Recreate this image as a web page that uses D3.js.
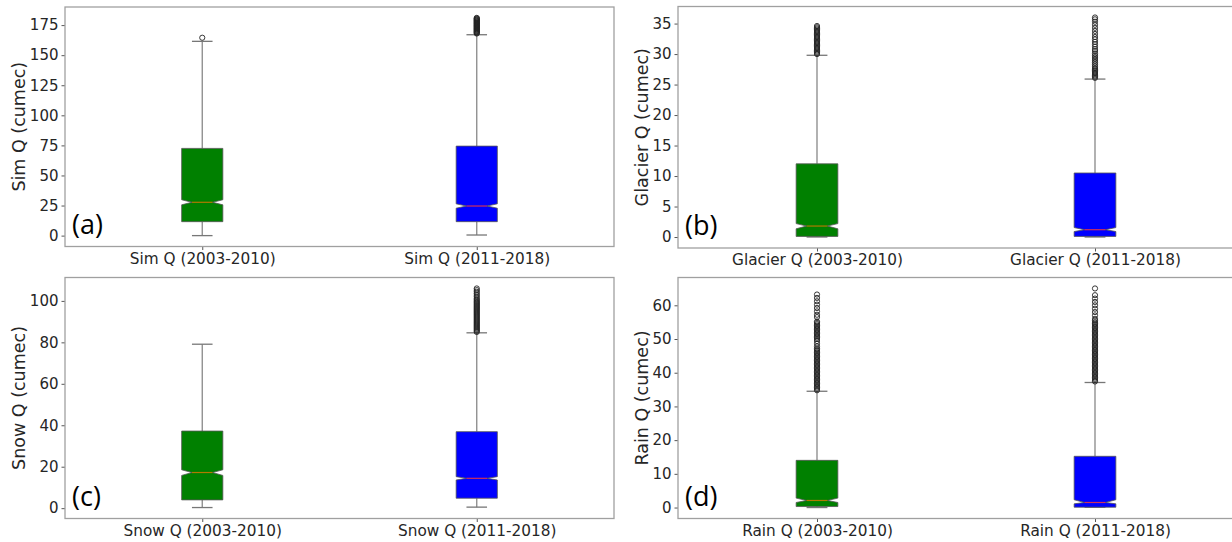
<!DOCTYPE html>
<html><head><meta charset="utf-8">
<script src="https://cdn.jsdelivr.net/npm/d3@7"></script>
<style>body{margin:0;background:#fff}svg{display:block}</style>
</head><body>
<svg id="c" width="1232" height="542"></svg>
<script>
// ---- data ----
const panelTags = ["(a)", "(b)", "(c)", "(d)"];
const varNames = ["Sim Q", "Glacier Q", "Snow Q", "Rain Q"];
const periods = ["2003-2010", "2011-2018"];
const yTicks = [
  [0, 25, 50, 75, 100, 125, 150, 175],
  [0, 5, 10, 15, 20, 25, 30, 35],
  [0, 20, 40, 60, 80, 100],
  [0, 10, 20, 30, 40, 50, 60]
];
// per panel: [2003-2010, 2011-2018]
const whisLo = [[0, 0.5], [0, 0], [0.3, 0.5], [0, 0.1]];
const q1     = [[11.6, 11.6], [0.1, 0.1], [4.0, 4.8], [0.3, 0.1]];
const ciLo   = [[25.6, 22.8], [1.35, 0.9], [15.8, 13.6], [1.5, 1.1]];
const med    = [[27.7, 24.6], [1.8, 1.2], [17.2, 14.4], [2.1, 1.5]];
const ciHi   = [[29.8, 26.4], [2.2, 1.55], [18.5, 15.2], [2.8, 2.3]];
const q3     = [[72.5, 74.4], [12.0, 10.5], [37.2, 36.9], [14.0, 15.2]];
const whisHi = [[161.5, 167], [29.8, 25.9], [79.1, 84.6], [34.5, 37.1]];
const outA1 = [164.5];
const outA2 = [168, 168.5, 169, 169.5, 170, 170.5, 171, 171.5, 172, 172.5, 173, 173.5, 174, 174.5, 175, 175.5, 176, 176.5, 177, 177.5, 178, 178.5, 179, 179.5, 180, 180.5, 181];
const outB1 = [30.0, 30.2, 30.4, 30.6, 30.8, 31.0, 31.2, 31.4, 31.6, 31.8, 32.0, 32.2, 32.4, 32.6, 32.8, 33.0, 33.2, 33.4, 33.6, 33.8, 34.0, 34.2, 34.4, 34.6];
const outB2 = [26.1, 26.3, 26.5, 26.7, 26.9, 27.1, 27.3, 27.5, 27.7, 28.0, 28.3, 28.6, 28.9, 29.2, 29.5, 29.8, 30.1, 30.5, 30.8, 31.2, 31.6, 32.0, 32.4, 32.8, 33.3, 33.8, 34.3, 34.8, 35.3, 35.7, 36.0];
const outC1 = [];
const outC2 = [85, 85.5, 86, 86.5, 87, 87.5, 88, 88.5, 89, 89.5, 90, 90.5, 91, 91.5, 92, 92.5, 93, 93.5, 94, 94.5, 95, 95.5, 96, 96.5, 97, 97.5, 98, 98.5, 99, 99.5, 100, 100.6, 101.2, 102, 102.8, 103.6, 104.4, 105.2, 106];
const outD1 = [34.8, 35.2, 35.6, 36.0, 36.4, 36.8, 37.2, 37.6, 38.0, 38.4, 38.8, 39.2, 39.6, 40.0, 40.4, 40.8, 41.2, 41.6, 42.0, 42.4, 42.8, 43.2, 43.6, 44.0, 44.4, 44.8, 45.2, 45.6, 46.0, 46.4, 46.8, 47.2, 47.8, 48.6, 49.4, 50.0, 50.4, 50.8, 51.2, 51.6, 52.0, 52.4, 52.8, 53.2, 53.6, 54.0, 54.4, 54.8, 55.2, 56.5, 57.2, 58.2, 59.2, 60.2, 61.2, 62.2, 63.2];
const outD2 = [37.4, 37.8, 38.2, 38.6, 39.0, 39.4, 39.8, 40.2, 40.6, 41.0, 41.4, 41.8, 42.2, 42.6, 43.0, 43.4, 43.8, 44.2, 44.6, 45.0, 45.4, 45.8, 46.2, 46.6, 47.0, 47.4, 47.8, 48.2, 48.6, 49.0, 49.4, 49.8, 50.2, 50.6, 51.0, 51.4, 51.8, 52.2, 52.6, 53.0, 53.4, 53.8, 54.2, 54.6, 55.0, 55.5, 56.0, 57.0, 58.0, 59.0, 60.0, 61.0, 62.0, 63.0, 65.0];
const outliers = [[outA1, outA2], [outB1, outB2], [outC1, outC2], [outD1, outD2]];
const boxColors = ["#008000", "#0000ff"];

// ---- layout ----
const frames = [
  {l: 65, r: 614, t: 7, b: 246.5},
  {l: 678, r: 1234, t: 6.5, b: 248},
  {l: 65, r: 614, t: 277.5, b: 518.5},
  {l: 678, r: 1234, t: 277.5, b: 518.5}
];
const svg = d3.select("#c");
const tickFont = "'DejaVu Sans', sans-serif";
const txtCol = "#262626";

panelTags.forEach((tag, p) => {
  const f = frames[p];
  const allVals = [].concat(whisLo[p], whisHi[p], outliers[p][0], outliers[p][1]);
  const mn = d3.min(allVals), mx = d3.max(allVals), pad = (mx - mn) * 0.05;
  const y = d3.scaleLinear().domain([mn - pad, mx + pad]).range([f.b, f.t]);
  const x = d3.scaleLinear().domain([0.5, 2.5]).range([f.l, f.r]);
  const g = svg.append("g");

  // axes
  const ya = d3.axisLeft(y).tickValues(yTicks[p]).tickSize(3.5).tickPadding(3).tickFormat(d3.format("d"));
  const yg = g.append("g").attr("transform", `translate(${f.l},0)`).call(ya);
  const xa = d3.axisBottom(x).tickValues([1, 2]).tickSize(3.5).tickPadding(3)
    .tickFormat((d, i) => `${varNames[p]} (${periods[i]})`);
  const xg = g.append("g").attr("transform", `translate(0,${f.b})`).call(xa);
  [yg, xg].forEach(a => {
    a.select(".domain").remove();
    a.selectAll(".tick line").attr("stroke", "#555").attr("stroke-width", 1);
    a.selectAll(".tick text").attr("fill", txtCol).style("font-family", tickFont).style("font-size", "15px");
  });
  xg.selectAll(".tick text").style("font-size", "15.3px");

  // frame
  g.append("rect").attr("x", f.l).attr("y", f.t).attr("width", f.r - f.l).attr("height", f.b - f.t)
    .attr("fill", "none").attr("stroke", "#a0a0a0").attr("stroke-width", 1.3);

  // y label, placed just left of the widest tick label
  let minX = f.l;
  yg.selectAll(".tick text").each(function () {
    const b = this.getBBox();
    minX = Math.min(minX, f.l + b.x);
  });
  g.append("text").attr("transform", `translate(${minX - 4.5},${(f.t + f.b) / 2}) rotate(-90)`)
    .attr("text-anchor", "middle").attr("fill", txtCol)
    .style("font-family", tickFont).style("font-size", "17.5px")
    .text(`${varNames[p]} (cumec)`);

  // panel tag
  g.append("text").attr("x", f.l + 7).attr("y", y(0) - 2).attr("fill", "#000")
    .style("font-family", "'Open Sans', sans-serif").style("font-size", "27px")
    .text(tag);

  // boxes
  const bw = (x(1) - x(0.5)) * 0.3;
  [0, 1].forEach(i => {
    const cx = x(i + 1);
    const bl = cx - bw / 2, br = cx + bw / 2, nl = cx - bw / 4, nr = cx + bw / 4;
    const bx = g.append("g");
    // whiskers
    bx.append("line").attr("x1", cx).attr("x2", cx).attr("y1", y(q3[p][i])).attr("y2", y(whisHi[p][i]))
      .attr("stroke", "#888").attr("stroke-width", 1.3);
    bx.append("line").attr("x1", cx).attr("x2", cx).attr("y1", y(q1[p][i])).attr("y2", y(whisLo[p][i]))
      .attr("stroke", "#888").attr("stroke-width", 1.3);
    [whisHi[p][i], whisLo[p][i]].forEach(v => {
      bx.append("line").attr("x1", nl).attr("x2", nr).attr("y1", y(v)).attr("y2", y(v))
        .attr("stroke", "#777").attr("stroke-width", 1.3);
    });
    // notched box
    const pts = [
      [bl, q1[p][i]], [br, q1[p][i]], [br, ciLo[p][i]], [nr, med[p][i]], [br, ciHi[p][i]],
      [br, q3[p][i]], [bl, q3[p][i]], [bl, ciHi[p][i]], [nl, med[p][i]], [bl, ciLo[p][i]]
    ];
    bx.append("path").attr("d", "M" + pts.map(d => `${d[0]},${y(d[1])}`).join("L") + "Z")
      .attr("fill", boxColors[i]).attr("stroke", "#555").attr("stroke-width", 0.8);
    // median
    bx.append("line").attr("x1", nl).attr("x2", nr).attr("y1", y(med[p][i])).attr("y2", y(med[p][i]))
      .attr("stroke", i === 0 ? "#b07a00" : "#d0305a").attr("stroke-width", 1.2);
    // outliers
    bx.selectAll("circle").data(outliers[p][i]).join("circle")
      .attr("cx", cx).attr("cy", d => y(d)).attr("r", 2.6)
      .attr("fill", "none").attr("stroke", "#222").attr("stroke-width", 0.9);
  });
});
</script>
</body></html>
